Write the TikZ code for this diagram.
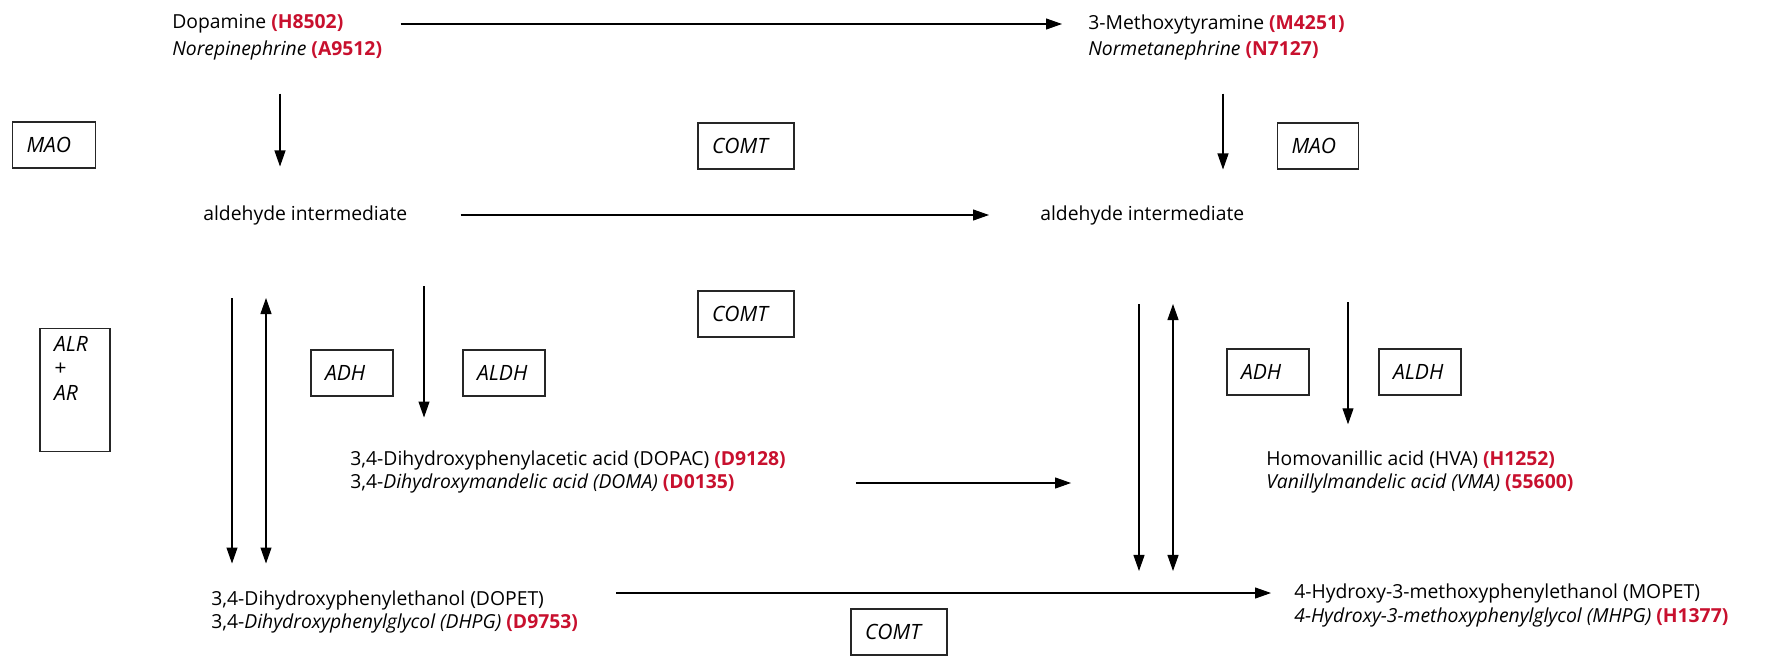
\documentclass[tikz,border=0pt]{standalone}
\usepackage{fontspec}
\setmainfont{Open Sans}
\usepackage{xcolor}
\usepackage{tikz}
\usetikzlibrary{arrows.meta}
\definecolor{codeRed}{RGB}{200,16,46}
\newcommand{\code}[1]{\textcolor{codeRed}{\textbf{#1}}}
\newcommand{\boxPad}{0.28cm}
\newcommand{\enzymeList}{maoL/54/145/1.10cm/MAO, comtA/746/146/1.36cm/COMT, maoR/1318/146/1.06cm/MAO, comtB/746/314/1.36cm/COMT, adhL/352/373/1.08cm/ADH, aldhL/504/373/1.08cm/ALDH, adhR/1268/372/1.08cm/ADH, aldhR/1420/372/1.08cm/ALDH, comtC/899/632/1.36cm/COMT}
\newcommand{\columnList}{cA/280, cB/1223, cC/232, cD/266, cE/424, cF/1139, cG/1173, cH/1348}

\tikzset{
	txt/.style={anchor=west, inner sep=0pt, font=\fontsize{11}{13}\selectfont},
	enzyme/.style={draw=black!85, line width=0.8pt, font=\fontsize{12}{14}\selectfont\itshape, inner xsep=\boxPad, minimum height=0.92cm, align=left},
	arr/.style={line width=0.6pt, -{Triangle[length=0.32cm,width=0.22cm]}},
	darr/.style={line width=0.6pt, {Triangle[length=0.32cm,width=0.22cm]}-{Triangle[length=0.32cm,width=0.22cm]}}
}

\begin{document}
\begin{tikzpicture}[x=0.02cm, y=-0.02cm]
	\useasboundingbox (0,0) rectangle (1772,656);
	
	% compounds
	\node[txt] (dopa) at (172,24) {Dopamine \code{(H8502)}};
	\node[txt] (nore) at (172,50) {\textit{Norepinephrine} \code{(A9512)}};
	\node[txt] (mtyr) at (1088,24) {3-Methoxytyramine \code{(M4251)}};
	\node[txt] (nmet) at (1088,50) {\textit{Normetanephrine} \code{(N7127)}};
	\node[txt] (aldL) at (203,215) {aldehyde intermediate};
	\node[txt] (aldR) at (1040,215) {aldehyde intermediate};
	\node[txt] (dopac) at (350,460) {3,4-Dihydroxyphenylacetic acid (DOPAC) \code{(D9128)}};
	\node[txt] (doma) at (350,483) {3,4-\textit{Dihydroxymandelic acid (DOMA)} \code{(D0135)}};
	\node[txt] (hva) at (1266,460) {Homovanillic acid (HVA) \code{(H1252)}};
	\node[txt] (vma) at (1266,483) {\textit{Vanillylmandelic acid (VMA)} \code{(55600)}};
	\node[txt] (dopet) at (211,600) {3,4-Dihydroxyphenylethanol (DOPET)};
	\node[txt] (dhpg) at (211,623) {3,4-\textit{Dihydroxyphenylglycol (DHPG)} \code{(D9753)}};
	\node[txt] (mopet) at (1294,593) {4-Hydroxy-3-methoxyphenylethanol (MOPET)};
	\node[txt] (mhpg) at (1294,617) {\textit{4-Hydroxy-3-methoxyphenylglycol (MHPG)} \code{(H1377)}};
	
	% enzymes
	\foreach \name/\x/\y/\w/\label in \enzymeList
	{
		\node[enzyme, text width=\w] (\name) at (\x,\y) {\label};
	}
	\node[enzyme] (alr) at (75,390) {\parbox[c][2.22cm][t]{0.84cm}{\vspace*{1pt}ALR\\+\\AR}};
	
	% arrow columns
	\foreach \col/\x in \columnList
	{
		\coordinate (\col) at (\x,0);
	}
	
	\draw[arr, shorten <=1.14cm, shorten >=0.52cm] (dopa.east) -- (mtyr.west);
	\draw[arr, shorten <=1.06cm, shorten >=1.02cm] (aldL.east) -- (aldR.west);
	\draw[arr, shorten <=2.42cm, shorten >=3.90cm] (doma.east) -- (vma.west);
	\draw[arr, shorten <=1.44cm, shorten >=0.46cm] (dopet.east |- mopet.west) -- (mopet.west);
	
	\draw[arr, shorten <=0.67cm, shorten >=0.77cm] (nore.south -| cA) -- (aldL.north -| cA);
	\draw[arr, shorten <=0.67cm, shorten >=0.71cm] (nmet.south -| cB) -- (aldR.north -| cB);
	\draw[arr, shorten <=1.46cm, shorten >=0.53cm] (aldL.south -| cC) -- (dopet.north -| cC);
	\draw[darr, shorten <=1.46cm, shorten >=0.53cm] (aldL.south -| cD) -- (dopet.north -| cD);
	\draw[arr, shorten <=1.22cm, shorten >=0.65cm] (aldL.south -| cE) -- (dopac.north -| cE);
	\draw[arr, shorten <=1.58cm, shorten >=0.24cm] (aldR.south -| cF) -- (mopet.north -| cF);
	\draw[darr, shorten <=1.58cm, shorten >=0.24cm] (aldR.south -| cG) -- (mopet.north -| cG);
	\draw[arr, shorten <=1.54cm, shorten >=0.53cm] (aldR.south -| cH) -- (hva.north -| cH);
\end{tikzpicture}
\end{document}
